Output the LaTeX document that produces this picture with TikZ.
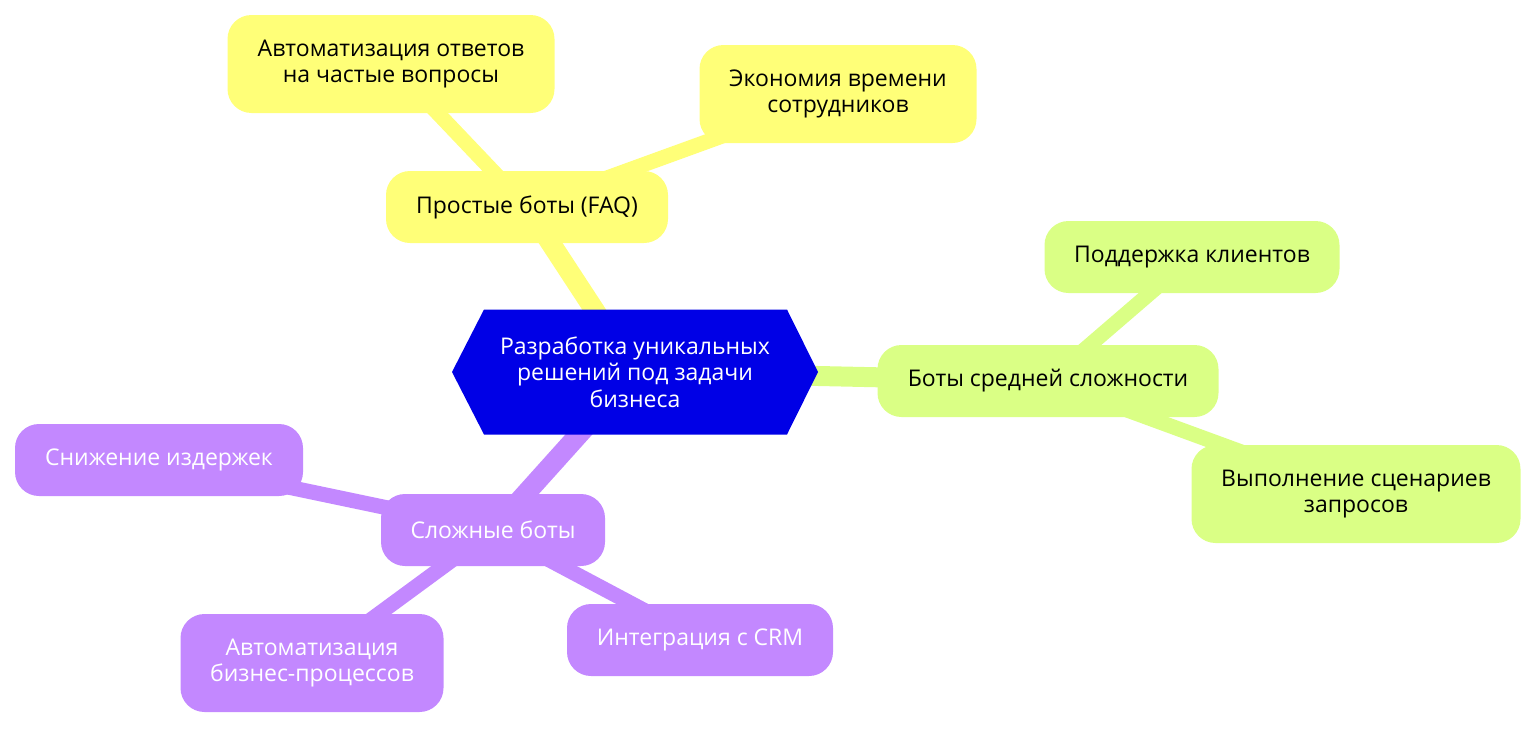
\documentclass[tikz,border=0pt]{standalone}
\usepackage{fontspec}
\newfontfamily\osans{Open Sans}
\usetikzlibrary{backgrounds,calc}
\definecolor{cY}{RGB}{255,255,120}
\definecolor{cG}{RGB}{218,255,133}
\definecolor{cP}{RGB}{195,136,255}
\definecolor{cB}{RGB}{0,0,230}
\tikzset{
  txt/.style={font=\osans\fontsize{23}{26.5}\selectfont, align=center, inner sep=0pt},
  box/.style={txt, rounded corners=24pt, minimum height=72pt},
  tall/.style={minimum height=98pt},
  yel/.style={fill=cY, text=black},
  grn/.style={fill=cG, text=black},
  pur/.style={fill=cP, text=white},
  e1/.style={line width=20pt, line cap=butt},
  e2/.style={line width=15pt, line cap=butt},
}
\begin{document}
\begin{tikzpicture}[x=1pt,y=-1pt]
\useasboundingbox (0,0) rectangle (1536,728);
% root
\node[txt, text=white, minimum width=366pt, minimum height=125pt] (root) at (635,372) {Разработка уникальных\\решений под задачи\\бизнеса};
% yellow
\node[box, yel, minimum width=282pt] (faq) at (527,207) {Простые боты (FAQ)};
\node[box, tall, yel, minimum width=327pt] (auto) at (391,64) {Автоматизация ответов\\на частые вопросы};
\node[box, tall, yel, minimum width=277pt] (econ) at (838,94) {Экономия времени\\сотрудников};
% green
\node[box, grn, minimum width=341pt] (mid) at (1048,381) {Боты средней сложности};
\node[box, grn, minimum width=295pt] (supp) at (1192,257) {Поддержка клиентов};
\node[box, tall, grn, minimum width=329pt] (scen) at (1356,494) {Выполнение сценариев\\запросов};
% purple
\node[box, pur, minimum width=224pt] (cx) at (493,530) {Сложные боты};
\node[box, pur, minimum width=288pt] (cost) at (159,460) {Снижение издержек};
\node[box, tall, pur, minimum width=263pt] (bp) at (312,663) {Автоматизация\\бизнес-процессов};
\node[box, pur, minimum width=266pt] (crm) at (700,640) {Интеграция с CRM};
\begin{scope}[on background layer]
  \draw[e1, cY] (root.center) -- (faq.center);
  \draw[e2, cY] (faq.center) -- (auto.center);
  \draw[e2, cY] (faq.center) -- (econ.center);
  \draw[e1, cG] (root.center) -- (mid.center);
  \draw[e2, cG] (mid.center) -- (supp.center);
  \draw[e2, cG] (mid.center) -- (scen.center);
  \draw[e1, cP] (root.center) -- (cx.center);
  \draw[e2, cP] (cx.center) -- (cost.center);
  \draw[e2, cP] (cx.center) -- (bp.center);
  \draw[e2, cP] (cx.center) -- (crm.center);
  \coordinate (hl) at ($(root.center)+(-183,0)$);
  \coordinate (hr) at ($(root.center)+(183,0)$);
  \fill[cB] (hl) -- ($(root.center)+(-151,-62.5)$) -- ($(root.center)+(152,-62.5)$) -- (hr)
     -- ($(root.center)+(152,62.5)$) -- ($(root.center)+(-151,62.5)$) -- cycle;
\end{scope}
\end{tikzpicture}
\end{document}
